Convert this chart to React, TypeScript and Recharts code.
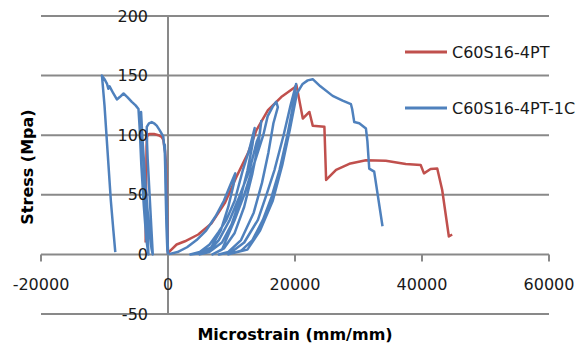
import React from 'react';
import { LineChart, Line, XAxis, YAxis, CartesianGrid, ReferenceLine, Legend, Label } from 'recharts';

// ---- data ----
const X_TICKS = [-20000, 0, 20000, 40000, 60000];
const Y_TICKS = [-50, 0, 50, 100, 150, 200];
const X_DOMAIN: [number, number] = [-20000, 60000];
const Y_DOMAIN: [number, number] = [-50, 200];
const SERIES_NAMES = ['C60S16-4PT', 'C60S16-4PT-1C'];
const SERIES_COLORS = ['#C0504D', '#4F81BD'];
const X_TITLE = 'Microstrain (mm/mm)';
const Y_TITLE = 'Stress (Mpa)';

// C60S16-4PT  [microstrain, stress]
const redPoints: [number, number][] = [
  [-3520, 10], [-3480, 40], [-3420, 70], [-3380, 90], [-3300, 99], [-3000, 101],
  [-2200, 101], [-1500, 100], [-1000, 98.5], [-730, 96], [-470, 87], [-300, 75],
  [-200, 50], [-120, 25], [0, 0],
  [50, 1.5], [1360, 8.3], [2670, 11], [4760, 16.7], [6850, 26], [8940, 43],
  [10770, 65], [12600, 85], [13910, 104], [15740, 121], [17830, 132], [19920, 140],
  [20230, 142], [21230, 114], [22270, 119.5], [22790, 108], [24630, 107],
  [24900, 62.5], [26470, 71], [28550, 76], [31170, 79], [34300, 78.6],
  [37440, 75.8], [39790, 75], [40310, 68], [41350, 71.7], [42400, 72],
  [43180, 54], [44230, 15], [44750, 16.7],
];

// C60S16-4PT-1C  [microstrain, stress]
const blueLeftPoints: [number, number][] = [
  [-8300, 2], [-8600, 20], [-9000, 45], [-9500, 85], [-10000, 125], [-10400, 150],
  [-10000, 147], [-9600, 143], [-9400, 139], [-9200, 141], [-8600, 135], [-8050, 130],
  [-7600, 132], [-7000, 135], [-6400, 132], [-5700, 128], [-5100, 125], [-4650, 122],
  [-4450, 105], [-4200, 75], [-3800, 40], [-3400, 12], [-3080, 0],
  [-3200, 15], [-3500, 45], [-3850, 80], [-4100, 105], [-4240, 119.5],
  [-4000, 95], [-3500, 55], [-2950, 20], [-2600, 5], [-2400, 0],
  [-2600, 20], [-2900, 50], [-3200, 80], [-3350, 100], [-3340, 107], [-3000, 110],
  [-2560, 111], [-2200, 110], [-1780, 108], [-1300, 104], [-750, 99], [-500, 85],
  [-400, 65], [-300, 45], [-200, 25], [-100, 8], [0, 0],
  [-150, 30], [-350, 70], [-500, 92], [-400, 60], [-250, 25], [-100, 3], [0, 0],
];

const blueRightPoints: [number, number][] = [
  [0, 0], [1500, 2], [3000, 6], [4500, 12], [6000, 20], [7500, 32], [8800, 45],
  [9800, 58], [10600, 68], [10300, 58], [9500, 40], [8300, 20], [6800, 6], [5000, 1], [3500, 0],
  [5000, 2], [6500, 8], [8000, 19], [9200, 29], [10500, 45], [11800, 71], [12800, 88],
  [13650, 106], [13300, 92], [12500, 70], [11300, 45], [10000, 25], [8500, 10], [6500, 2], [5000, 0],
  [6500, 3], [8000, 12], [9730, 29], [11200, 48], [12860, 71], [14000, 95], [14400, 100],
  [14700, 112], [14300, 95], [13300, 68], [12000, 40], [10500, 18], [8800, 5], [7000, 0],
  [8500, 4], [10510, 29], [12000, 50], [13500, 75], [15000, 100], [15700, 116], [16500, 124],
  [17050, 128], [17300, 123.6], [16600, 110], [15800, 85], [14800, 60], [13500, 35], [11500, 12], [9500, 2], [8000, 0],
  [10000, 2], [12000, 10], [14160, 29], [15500, 50], [16780, 71], [18200, 100], [19300, 125],
  [20180, 143], [19700, 125], [18800, 100], [17570, 71], [16300, 48], [14950, 29], [13300, 12],
  [11500, 3], [9500, 0],
  [12500, 4], [14500, 20], [16500, 45], [18000, 75], [19200, 105], [20300, 135], [21200, 143],
  [22000, 146], [22790, 147], [24000, 141], [25930, 133], [27500, 129], [28810, 126],
  [29000, 122], [29330, 111], [30120, 110], [31170, 105.6], [31400, 95], [31690, 72],
  [32470, 69.4], [33780, 23.6],
];

const toData = (pts: [number, number][]) => pts.map(([x, y]) => ({ x, y }));
const redData = toData(redPoints);
const blueData = toData([...blueLeftPoints, ...blueRightPoints.slice(1)]);

// ---- layout ----
const W = 585;
const H = 347;
const X_AXIS_H = 30;
const Y_AXIS_W = 30;
const M = { top: 16, right: 36, bottom: 33 - X_AXIS_H, left: 41 - Y_AXIS_W };
const PLOT_LEFT = M.left + Y_AXIS_W;
const PLOT_W = W - PLOT_LEFT - M.right;
const PLOT_H = H - M.top - M.bottom - X_AXIS_H;
const FONT = '"DejaVu Sans", sans-serif';
const GRID = '#898989';
const X0 = PLOT_LEFT + ((0 - X_DOMAIN[0]) / (X_DOMAIN[1] - X_DOMAIN[0])) * PLOT_W;
const Y0 = M.top + ((Y_DOMAIN[1] - 0) / (Y_DOMAIN[1] - Y_DOMAIN[0])) * PLOT_H;

const XTick = (props: any) => {
  const { x, payload } = props;
  return (
    <g>
      <line x1={x} x2={x} y1={Y0} y2={Y0 + 7} stroke={GRID} strokeWidth={2} />
      <text x={x} y={Y0 + 30} textAnchor="middle" dominantBaseline="central" fontFamily={FONT} fontSize={16} fill="#1a1a1a">
        {payload.value}
      </text>
    </g>
  );
};

const YTick = (props: any) => {
  const { y, payload } = props;
  return (
    <text x={X0 - 20} y={y} textAnchor="end" dominantBaseline="central" fontFamily={FONT} fontSize={16} fill="#1a1a1a">
      {payload.value}
    </text>
  );
};

const XTitle = (props: any) => {
  const vb = props.viewBox || {};
  return (
    <text x={vb.x + vb.width / 2} y={vb.y + 20} textAnchor="middle" dominantBaseline="central" fontFamily={FONT} fontSize={16} fontWeight="bold" fill="#000">
      {X_TITLE}
    </text>
  );
};

const YTitle = (props: any) => {
  const vb = props.viewBox || {};
  const cx = vb.x + 16;
  const cy = vb.y + vb.height / 2 + 2;
  return (
    <text x={cx} y={cy} transform={`rotate(-90 ${cx} ${cy})`} textAnchor="middle" dominantBaseline="central" fontFamily={FONT} fontSize={16} fontWeight="bold" fill="#000">
      {Y_TITLE}
    </text>
  );
};

const LegendContent = (props: any) => {
  const items = (props.payload || []).filter((p: any) => p.type !== 'none');
  return (
    <div style={{ fontFamily: FONT, fontSize: 16, color: '#1a1a1a' }}>
      {items.map((it: any) => (
        <div key={it.value} style={{ display: 'flex', alignItems: 'center', height: 56, whiteSpace: 'nowrap' }}>
          <svg width={42} height={4} style={{ display: 'block' }}>
            <line x1={0} x2={42} y1={2} y2={2} stroke={it.color} strokeWidth={3} />
          </svg>
          <span style={{ marginLeft: 5 }}>{it.value}</span>
        </div>
      ))}
    </div>
  );
};

export default function App() {
  return (
    <div style={{ position: 'absolute', left: 0, top: 0 }}>
      <LineChart width={W} height={H} margin={M} style={{ fontFamily: FONT }}>
        <CartesianGrid vertical={false} stroke={GRID} strokeWidth={2} />
        <XAxis
          type="number"
          dataKey="x"
          domain={X_DOMAIN}
          ticks={X_TICKS}
          interval={0}
          axisLine={false}
          tickLine={false}
          tick={XTick}
          height={X_AXIS_H}
          allowDataOverflow
        >
          <Label content={XTitle} />
        </XAxis>
        <YAxis
          type="number"
          domain={Y_DOMAIN}
          ticks={Y_TICKS}
          interval={0}
          axisLine={false}
          tickLine={false}
          tick={YTick}
          width={Y_AXIS_W}
          allowDataOverflow
        >
          <Label content={YTitle} />
        </YAxis>
        <ReferenceLine x={0} stroke={GRID} strokeWidth={2} />
        <Line
          data={redData}
          dataKey="y"
          name={SERIES_NAMES[0]}
          stroke={SERIES_COLORS[0]}
          strokeWidth={2.5}
          dot={false}
          activeDot={false}
          type="linear"
          strokeLinejoin="round"
          isAnimationActive={false}
        />
        <Line
          data={blueData}
          dataKey="y"
          name={SERIES_NAMES[1]}
          stroke={SERIES_COLORS[1]}
          strokeWidth={2.5}
          dot={false}
          activeDot={false}
          type="linear"
          strokeLinejoin="round"
          isAnimationActive={false}
        />
        <Legend
          layout="vertical"
          align="center"
          verticalAlign="middle"
          content={LegendContent}
          wrapperStyle={{ left: 405, top: 24, right: 'auto', bottom: 'auto', width: 180 }}
        />
      </LineChart>
    </div>
  );
}
